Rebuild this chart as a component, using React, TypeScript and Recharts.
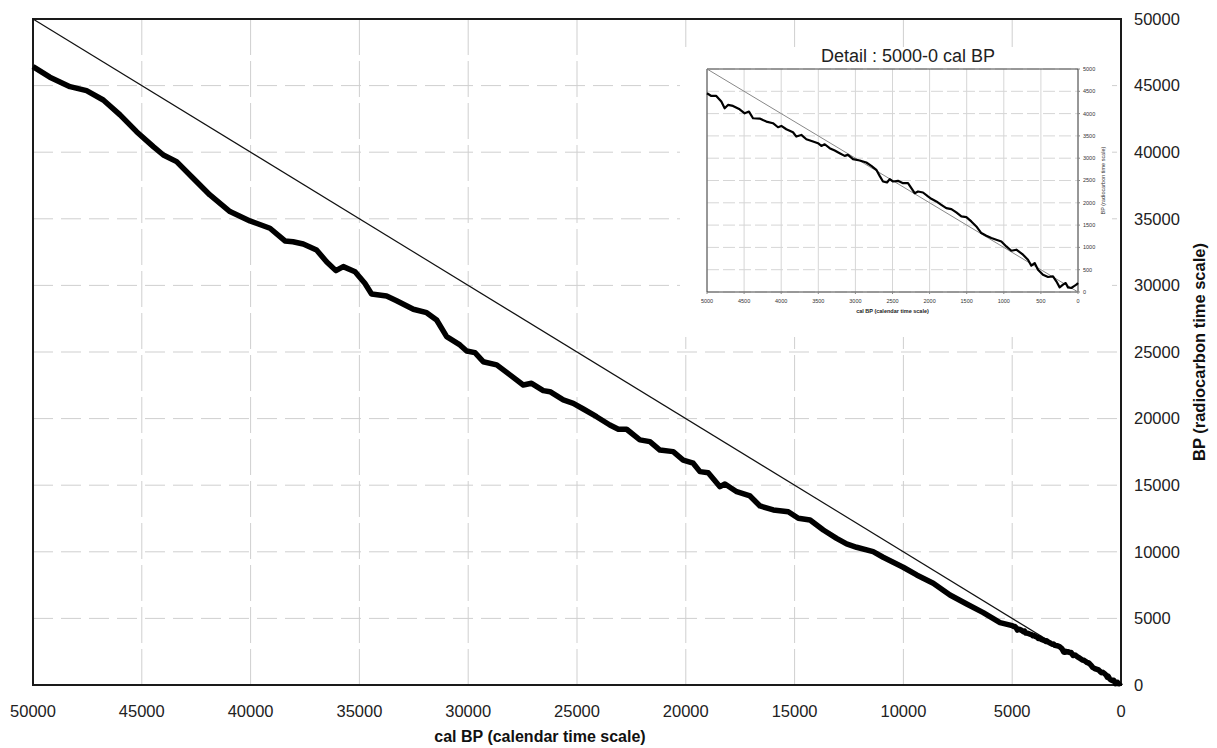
import React from 'react';
import { LineChart, Line, XAxis, YAxis, CartesianGrid, ReferenceArea, Label } from 'recharts';

// main curve (cal BP -> radiocarbon BP), 50000 down to ~5000
const calMain = [
  50000, 49225, 48300, 47540, 46770, 46000, 45240, 44470, 44010, 43400,
  42640, 41870, 40950, 40030, 39110, 38420, 38050, 37580, 36970, 36510,
  36080, 35740, 35200, 34750, 34440, 33750, 33290, 32520, 31910, 31450,
  30990, 30380, 30070, 29690, 29310, 28690, 28080, 27470, 27090, 26550,
  26240, 25630, 25170, 24710, 24100, 23490, 23100, 22720, 22110, 21650,
  21190, 20580, 20120, 19660, 19350, 18970, 18430, 18200, 17660, 17050,
  16590, 15980, 15290, 14830, 14290, 13680, 13070, 12610, 12150, 11390,
  10930, 10010, 9390, 8630, 7860, 7090, 6330, 5560,
];
const bpMain = [
  46420, 45630, 44920, 44620, 43920, 42800, 41540, 40420, 39790, 39290,
  38040, 36790, 35540, 34840, 34290, 33340, 33280, 33110, 32660, 31780,
  31110, 31410, 31030, 30160, 29360, 29210, 28850, 28210, 27950, 27400,
  26150, 25530, 25080, 24950, 24270, 24030, 23280, 22520, 22650, 22100,
  22020, 21400, 21150, 20720, 20140, 19520, 19200, 19200, 18400, 18270,
  17640, 17520, 16890, 16650, 16020, 15940, 14890, 15090, 14510, 14190,
  13440, 13140, 13010, 12520, 12390, 11640, 11010, 10590, 10340, 10010,
  9590, 8840, 8260, 7640, 6760, 6080, 5430, 4680,
];

// detail 5000-0 cal BP
const calDetail = [
  5000, 4942, 4875, 4807, 4762, 4717, 4650, 4560, 4492, 4434,
  4380, 4290, 4200, 4111, 4043, 3998, 3931, 3841, 3796, 3729,
  3661, 3571, 3504, 3459, 3414, 3347, 3279, 3212, 3145, 3100,
  3032, 2942, 2853, 2785, 2718, 2673, 2628, 2574, 2538, 2493,
  2426, 2358, 2291, 2246, 2201, 2156, 2089, 2022, 1977, 1909,
  1842, 1775, 1707, 1640, 1572, 1505, 1438, 1370, 1303, 1235,
  1168, 1101, 1033, 966, 898, 831, 741, 674, 629, 584,
  539, 472, 404, 337, 292, 247, 202, 166, 135, 90,
  58, 22, 0,
];
const bpDetail = [
  4455, 4396, 4396, 4269, 4119, 4194, 4172, 4097, 4007, 4045,
  3896, 3888, 3821, 3784, 3694, 3724, 3649, 3582, 3485, 3522,
  3425, 3373, 3336, 3276, 3313, 3224, 3172, 3112, 3052, 3075,
  2978, 2948, 2903, 2828, 2739, 2604, 2478, 2455, 2530, 2478,
  2493, 2440, 2440, 2328, 2216, 2254, 2231, 2142, 2090, 2030,
  1955, 1881, 1858, 1784, 1694, 1679, 1582, 1470, 1321, 1261,
  1209, 1172, 1134, 1022, 925, 948, 836, 724, 590, 649,
  500, 388, 336, 351, 239, 104, 164, 201, 104, 90,
  127, 164, 201,
];

const mainTicks = [0, 5000, 10000, 15000, 20000, 25000, 30000, 35000, 40000, 45000, 50000];
const detailTicks = [0, 500, 1000, 1500, 2000, 2500, 3000, 3500, 4000, 4500, 5000];

// 1:1 lines (cal BP = BP)
const mainDiagonal = [50000, 0];
const detailDiagonal = [5000, 0];

const FONT = '"Liberation Sans", Arial, Helvetica, sans-serif';

const toRows = (cal: number[], bp: number[]) => cal.map((c, i) => ({ cal: c, bp: bp[i] }));

const mainRows = [...toRows(calMain, bpMain), ...toRows(calDetail, bpDetail)];
const detailRows = toRows(calDetail, bpDetail);
const mainDiagRows = mainDiagonal.map((v) => ({ cal: v, bp: v }));
const detailDiagRows = detailDiagonal.map((v) => ({ cal: v, bp: v }));

function MainChart() {
  return (
    <LineChart width={1217} height={748} margin={{ top: 19, right: 0, bottom: 0, left: 33 }}>
      <CartesianGrid horizontal={false} stroke="#cfcfcf" strokeDasharray="36 6" />
      <CartesianGrid vertical={false} stroke="#cfcfcf" strokeDasharray="20 8" />
      <XAxis
        type="number"
        dataKey="cal"
        domain={[0, 50000]}
        ticks={mainTicks}
        interval={0}
        reversed
        height={63}
        tickSize={0}
        tickMargin={20}
        axisLine={false}
        tick={{ fontSize: 16.5, fill: '#222', fontFamily: FONT }}
      >
        <Label
          value="cal BP (calendar time scale)"
          position="insideBottom"
          offset={6}
          dx={-37}
          fontSize={16}
          fontWeight="bold"
          fill="#111"
          fontFamily={FONT}
        />
      </XAxis>
      <YAxis
        type="number"
        dataKey="bp"
        orientation="right"
        domain={[0, 50000]}
        ticks={mainTicks}
        interval={0}
        width={96}
        tickSize={0}
        tickMargin={13}
        axisLine={false}
        tick={{ fontSize: 16.5, fill: '#222', fontFamily: FONT }}
      >
        <Label
          value="BP (radiocarbon time scale)"
          angle={-90}
          position="center"
          dx={30}
          fontSize={16.5}
          fontWeight="bold"
          fill="#111"
          fontFamily={FONT}
        />
      </YAxis>
      <ReferenceArea x1={0} x2={50000} y1={0} y2={50000} fill="none" stroke="#1a1a1a" strokeWidth={2} />
      <Line data={mainDiagRows} dataKey="bp" stroke="#111" strokeWidth={1.2} dot={false} isAnimationActive={false} />
      <Line
        data={mainRows}
        dataKey="bp"
        type="linear"
        stroke="#000"
        strokeWidth={5.5}
        strokeLinejoin="round"
        dot={false}
        isAnimationActive={false}
      />
    </LineChart>
  );
}

function DetailChart() {
  return (
    <LineChart width={432} height={290} margin={{ top: 22, right: 0, bottom: 0, left: 27 }}>
      <CartesianGrid horizontal={false} stroke="#d6d6d6" />
      <CartesianGrid vertical={false} stroke="#d6d6d6" strokeDasharray="12 4" />
      <XAxis
        type="number"
        dataKey="cal"
        domain={[0, 5000]}
        ticks={detailTicks}
        interval={0}
        reversed
        height={45}
        tickSize={2}
        tickMargin={5}
        axisLine={false}
        tickLine={{ stroke: '#888' }}
        tick={{ fontSize: 5.5, fill: '#333', fontFamily: FONT }}
      >
        <Label
          value="cal BP (calendar time scale)"
          position="insideBottom"
          offset={24}
          fontSize={5.5}
          fontWeight="bold"
          fill="#222"
          fontFamily={FONT}
        />
      </XAxis>
      <YAxis
        type="number"
        dataKey="bp"
        orientation="right"
        domain={[0, 5000]}
        ticks={detailTicks}
        interval={0}
        width={34}
        tickSize={2}
        tickMargin={3}
        axisLine={false}
        tickLine={{ stroke: '#888' }}
        tick={{ fontSize: 5.5, fill: '#333', fontFamily: FONT }}
      >
        <Label
          value="BP (radiocarbon time scale)"
          angle={-90}
          position="center"
          dx={8}
          fontSize={5.5}
          fill="#333"
          fontFamily={FONT}
        />
      </YAxis>
      <ReferenceArea x1={0} x2={5000} y1={0} y2={5000} fill="none" stroke="#444" strokeWidth={1} />
      <Line data={detailDiagRows} dataKey="bp" stroke="#888" strokeWidth={1} dot={false} isAnimationActive={false} />
      <Line
        data={detailRows}
        dataKey="bp"
        type="linear"
        stroke="#000"
        strokeWidth={2.2}
        strokeLinejoin="round"
        dot={false}
        isAnimationActive={false}
      />
    </LineChart>
  );
}

export default function App() {
  return (
    <div style={{ position: 'absolute', left: 0, top: 0, width: 1217, height: 748, background: '#fff', fontFamily: FONT }}>
      <MainChart />
      <div style={{ position: 'absolute', left: 680, top: 47, width: 432, height: 290, background: '#fff' }}>
        <DetailChart />
      </div>
      <div
        style={{
          position: 'absolute',
          left: 808,
          top: 46,
          width: 200,
          textAlign: 'center',
          fontSize: 18,
          color: '#222',
          whiteSpace: 'nowrap',
        }}
      >
        Detail : 5000-0 cal BP
      </div>
    </div>
  );
}
